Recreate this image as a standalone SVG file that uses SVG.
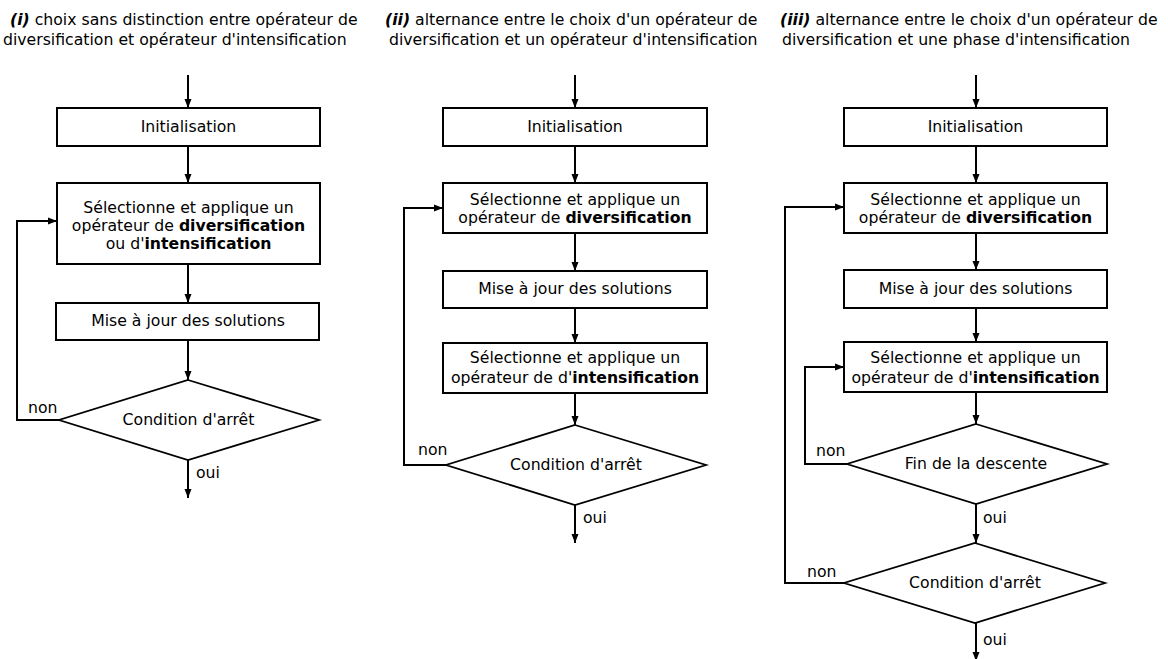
<svg xmlns="http://www.w3.org/2000/svg" width="1168" height="659" viewBox="0 0 1168 659">
<style>
text { font-family: "DejaVu Sans", "Liberation Sans", sans-serif; font-size: 15.7px; fill: #000; }
.c { text-anchor: middle; }
.b { font-weight: bold; }
.bi { font-weight: bold; font-style: italic; }
.box { fill: #fff; stroke: #000; stroke-width: 2; }
.dia { fill: #fff; stroke: #000; stroke-width: 1.8; }
.ln { fill: none; stroke: #000; stroke-width: 2; marker-end: url(#ah); }
</style>
<defs>
<marker id="ah" markerUnits="userSpaceOnUse" markerWidth="9" markerHeight="8" refX="9" refY="4" orient="auto">
<path d="M0,0.5 L9,4 L0,7.5 z" fill="#000"/>
</marker>
</defs>
<rect width="1168" height="659" fill="#fff"/>

<g id="titles">
<text x="10" y="25"><tspan class="bi">(i)</tspan> choix sans distinction entre opérateur de</text>
<text x="3" y="45">diversification et opérateur d'intensification</text>
<text x="385" y="25"><tspan class="bi">(ii)</tspan> alternance entre le choix d'un opérateur de</text>
<text x="389" y="45">diversification et un opérateur d'intensification</text>
<text x="780" y="25"><tspan class="bi">(iii)</tspan> alternance entre le choix d'un opérateur de</text>
<text x="782" y="45">diversification et une phase d'intensification</text>
</g>

<g id="connectors">
<!-- panel i -->
<path class="ln" d="M188,75 V108"/>
<path class="ln" d="M188,146 V183"/>
<path class="ln" d="M188,264 V303"/>
<path class="ln" d="M188,340 V380"/>
<path class="ln" d="M188,460 V498"/>
<path class="ln" d="M59,420 H17 V221 H57"/>
<!-- panel ii -->
<path class="ln" d="M575,75 V108"/>
<path class="ln" d="M575,146 V183"/>
<path class="ln" d="M575,233 V271"/>
<path class="ln" d="M575,308 V343"/>
<path class="ln" d="M575,393 V425"/>
<path class="ln" d="M575,505 V543"/>
<path class="ln" d="M446,465 H404 V208 H443"/>
<!-- panel iii -->
<path class="ln" d="M976,75 V108"/>
<path class="ln" d="M976,146 V183"/>
<path class="ln" d="M976,233 V270"/>
<path class="ln" d="M976,308 V342"/>
<path class="ln" d="M976,392 V424"/>
<path class="ln" d="M976,504 V543"/>
<path class="ln" d="M976,623 V661"/>
<path class="ln" d="M847,464 H805 V367 H844"/>
<path class="ln" d="M844,583 H785 V207 H844"/>
</g>

<g id="labels">
<text x="28" y="413">non</text>
<text x="196" y="478">oui</text>
<text x="418" y="455">non</text>
<text x="583" y="523">oui</text>
<text x="816" y="456">non</text>
<text x="983" y="523">oui</text>
<text x="807" y="577">non</text>
<text x="983" y="645">oui</text>
</g>

<!-- panel i nodes -->
<g id="i-init">
<rect class="box" x="57" y="108" width="263" height="38"/>
<text class="c" x="188.5" y="132">Initialisation</text>
</g>
<g id="i-select">
<rect class="box" x="57" y="183" width="263" height="81"/>
<text class="c" x="188.5" y="213">Sélectionne et applique un</text>
<text class="c" x="188.5" y="231">opérateur de <tspan class="b">diversification</tspan></text>
<text class="c" x="188.5" y="249">ou d'<tspan class="b">intensification</tspan></text>
</g>
<g id="i-update">
<rect class="box" x="56" y="303" width="263" height="37"/>
<text class="c" x="188" y="326">Mise à jour des solutions</text>
</g>
<g id="i-stop">
<polygon class="dia" points="188,380 319,420 188,460 59,420"/>
<text class="c" x="188.5" y="425">Condition d'arrêt</text>
</g>

<!-- panel ii nodes -->
<g id="ii-init">
<rect class="box" x="443" y="108" width="264" height="38"/>
<text class="c" x="575" y="132">Initialisation</text>
</g>
<g id="ii-div">
<rect class="box" x="443" y="183" width="264" height="50"/>
<text class="c" x="575" y="205">Sélectionne et applique un</text>
<text class="c" x="575" y="223">opérateur de <tspan class="b">diversification</tspan></text>
</g>
<g id="ii-update">
<rect class="box" x="443" y="271" width="264" height="37"/>
<text class="c" x="575" y="294">Mise à jour des solutions</text>
</g>
<g id="ii-int">
<rect class="box" x="443" y="343" width="264" height="50"/>
<text class="c" x="575" y="363">Sélectionne et applique un</text>
<text class="c" x="575" y="383">opérateur de d'<tspan class="b">intensification</tspan></text>
</g>
<g id="ii-stop">
<polygon class="dia" points="575,425 706,465 575,505 446,465"/>
<text class="c" x="576" y="470">Condition d'arrêt</text>
</g>

<!-- panel iii nodes -->
<g id="iii-init">
<rect class="box" x="844" y="108" width="263" height="38"/>
<text class="c" x="975.5" y="132">Initialisation</text>
</g>
<g id="iii-div">
<rect class="box" x="844" y="183" width="263" height="50"/>
<text class="c" x="975.5" y="205">Sélectionne et applique un</text>
<text class="c" x="975.5" y="223">opérateur de <tspan class="b">diversification</tspan></text>
</g>
<g id="iii-update">
<rect class="box" x="844" y="270" width="263" height="38"/>
<text class="c" x="975.5" y="294">Mise à jour des solutions</text>
</g>
<g id="iii-int">
<rect class="box" x="844" y="342" width="263" height="50"/>
<text class="c" x="975.5" y="363">Sélectionne et applique un</text>
<text class="c" x="975.5" y="383">opérateur de d'<tspan class="b">intensification</tspan></text>
</g>
<g id="iii-descent">
<polygon class="dia" points="976,424 1107,464 976,504 847,464"/>
<text class="c" x="976" y="469">Fin de la descente</text>
</g>
<g id="iii-stop">
<polygon class="dia" points="975,543 1105,583 975,623 844,583"/>
<text class="c" x="975" y="588">Condition d'arrêt</text>
</g>
</svg>
